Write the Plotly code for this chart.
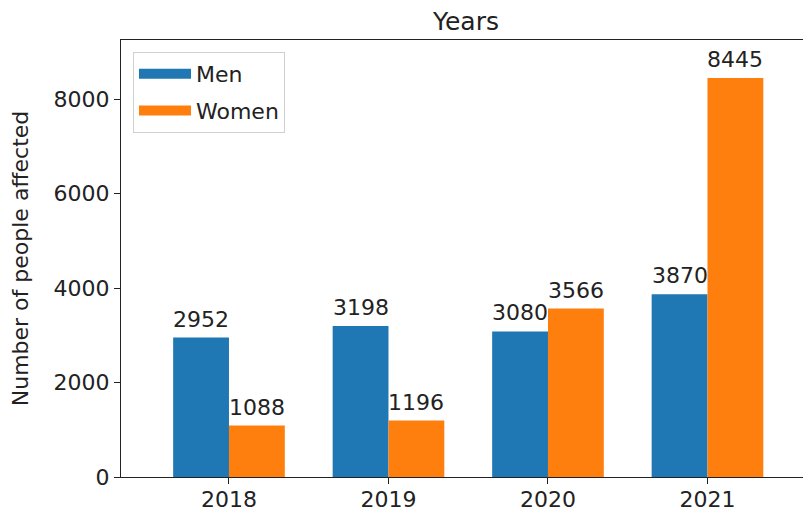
import plotly.graph_objects as go

years = ["2018", "2019", "2020", "2021"]
men = [2952, 3198, 3080, 3870]
women = [1088, 1196, 3566, 8445]
y_ticks = [0, 2000, 4000, 6000, 8000]

blue = "#1f77b4"
orange = "#ff7f0e"
width = 0.35
x = list(range(len(years)))
men_x = [i - width / 2 for i in x]
women_x = [i + width / 2 for i in x]

# the page body adds an 8px offset, so the figure is shrunk to fit
W, H, OFF = 811 - 8, 512 - 8, 8

fig = go.Figure()
fig.add_trace(go.Bar(
    x=men_x, y=men, width=width, name="Men", showlegend=False,
    marker=dict(color=blue, line=dict(width=0)),
))
fig.add_trace(go.Bar(
    x=women_x, y=women, width=width, name="Women", showlegend=False,
    marker=dict(color=orange, line=dict(width=0)),
))
# legend-only entries so the legend handles are wide patches like the original
for name, col in [("Men", blue), ("Women", orange)]:
    fig.add_trace(go.Scatter(x=[None], y=[None], mode="lines", name=name,
                             legendgroup=name, line=dict(color=col, width=17)))

for xs, vals in [(men_x, men), (women_x, women)]:
    for xv, v in zip(xs, vals):
        fig.add_annotation(x=xv, y=v, text=str(v), showarrow=False,
                           xanchor="center", yanchor="bottom", yshift=4,
                           font=dict(size=22, color="#222"))

fig.update_layout(
    width=W, height=H,
    margin=dict(l=121 - OFF, r=0, t=40 - OFF, b=H - (477 - OFF), autoexpand=False),
    paper_bgcolor="white", plot_bgcolor="white",
    font=dict(family="DejaVu Sans", size=22, color="#222"),
    title=dict(text="Years", x=(466 - OFF) / W, xanchor="center", xref="container",
               y=1 - (21 - OFF) / H, yanchor="middle", yref="container",
               font=dict(size=25)),
    showlegend=True,
    legend=dict(x=(133 - 121) / (811 - 121), y=(477 - 52) / 437, xanchor="left", yanchor="top",
                bgcolor="white", bordercolor="#d0d0d0", borderwidth=1,
                font=dict(size=22), itemwidth=52, tracegroupgap=5),
)
fig.update_xaxes(
    range=[-0.677, 3.649], tickvals=x, ticktext=years, automargin=False,
    showline=True, linecolor="#222", linewidth=1.3, mirror=True,
    ticks="outside", ticklen=6, tickcolor="#222", showgrid=False, zeroline=False,
    tickfont=dict(size=22), ticklabelstandoff=-4,
)
fig.update_yaxes(
    range=[0, 9250], tickvals=y_ticks, automargin=False,
    showline=True, linecolor="#222", linewidth=1.3,
    ticks="outside", ticklen=6, tickcolor="#222", showgrid=False, zeroline=False,
    title=dict(text="Number of people affected", font=dict(size=22), standoff=20),
    tickfont=dict(size=22),
)

fig.write_html("out.html", config={"responsive": False})
